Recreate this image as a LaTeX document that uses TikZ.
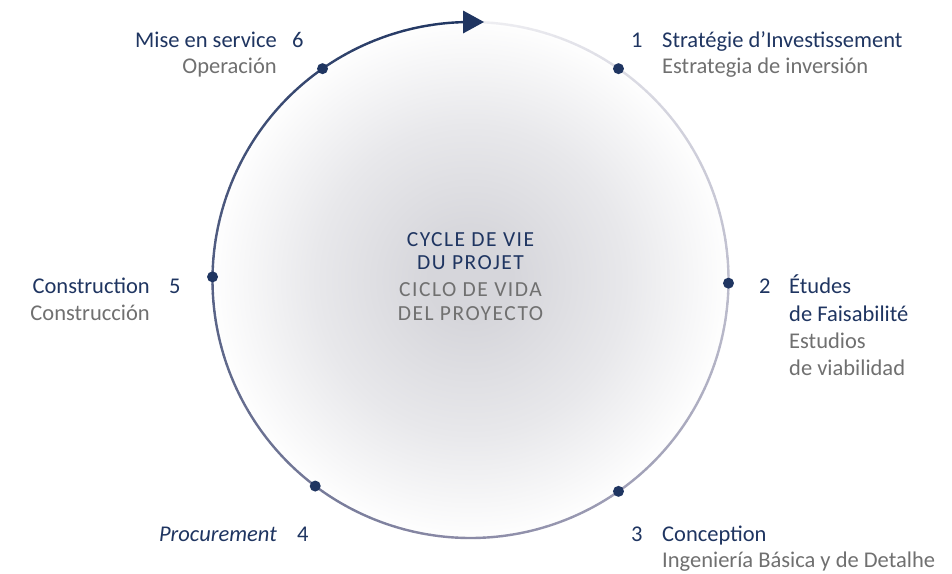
\documentclass[tikz,border=0pt]{standalone}
\usepackage{fontspec}
\setmainfont{Carlito}
\definecolor{navy}{HTML}{1F3561}
\definecolor{txtgray}{HTML}{707070}
\definecolor{cin}{HTML}{D6D6DB}
\definecolor{cmid}{HTML}{E8E8EB}
\definecolor{cout}{HTML}{FEFEFE}
\definecolor{lightc}{HTML}{EEEEF2}
\definecolor{midc}{HTML}{8A8AA6}
\pgfdeclareradialshading{discshade}{\pgfpoint{0bp}{0bp}}{color(0bp)=(cin); color(4bp)=(cin); color(15bp)=(cmid); color(25bp)=(cout); color(50bp)=(cout)}
\begin{document}
\begin{tikzpicture}[x=1pt,y=-1pt,
  fr/.style={inner sep=0pt, font=\fontsize{22.5}{26}\selectfont, text=navy},
  es/.style={inner sep=0pt, font=\fontsize{22.5}{26}\selectfont, text=txtgray},
  num/.style={inner sep=0pt, font=\fontsize{22.5}{26}\selectfont, text=navy},
  ctr/.style={inner sep=0pt, font=\fontsize{21.5}{24}\selectfont\addfontfeatures{LetterSpace=7}, anchor=base},
  dot/.style={circle, fill=navy, inner sep=0pt, minimum size=11pt}]
\useasboundingbox (0,0) rectangle (952,573);
\fill[white] (0,0) rectangle (952,573);
\coordinate (c) at (470.5,280);
% disc
\path[shading=discshade] (c) circle (258);
% gradient outline
\foreach \i in {0,...,177}{
  \pgfmathsetmacro\a{-87+2*\i}
  \ifnum\i<89
    \pgfmathtruncatemacro\p{\i*100/88}
    \colorlet{segc}{midc!\p!lightc}
  \else
    \pgfmathtruncatemacro\p{(\i-89)*100/88}
    \colorlet{segc}{navy!\p!midc}
  \fi
  \draw[segc, line width=2.4pt, line cap=round] ([shift={(\a:258)}]c) arc[start angle=\a, end angle=\a+2, radius=258];
}
% arrowhead
\fill[navy] (463,10.5) -- (484,22) -- (463,33.5) -- cycle;
% dots
\node[dot] (d1) at ([shift={(-55:258)}]c) {};
\node[dot] (d2) at ([shift={(0.7:258)}]c) {};
\node[dot] (d3) at ([shift={(55:258)}]c) {};
\node[dot] (d4) at ([shift={(127:258)}]c) {};
\node[dot] (d5) at ([shift={(180.7:258)}]c) {};
\node[dot] (d6) at ([shift={(-125:258)}]c) {};
% center text
\node[ctr, text=navy] (c1) at (470.5,246) {CYCLE DE VIE};
\node[ctr, text=navy] (c2) at (470.5,269) {DU PROJET};
\node[ctr, text=txtgray] (c3) at (470.5,296) {CICLO DE VIDA};
\node[ctr, text=txtgray] (c4) at (470.5,320) {DEL PROYECTO};
% 1
\node[num, anchor=base west] (n1) at (631,47.5) {1};
\node[fr, anchor=base west] (t1a) at (662,47.5) {Stratégie d’Investissement};
\node[es, anchor=base west] (t1b) at (662,73.5) {Estrategia de inversión};
% 2
\node[num, anchor=base west] (n2) at (759,293) {2};
\node[fr, anchor=base west] (t2a) at (789,293) {Études};
\node[fr, anchor=base west] (t2b) at (789,321) {de Faisabilité};
\node[es, anchor=base west] (t2c) at (789,348) {Estudios};
\node[es, anchor=base west] (t2d) at (789,375) {de viabilidad};
% 3
\node[num, anchor=base west] (n3) at (631,541) {3};
\node[fr, anchor=base west] (t3a) at (662,541) {Conception};
\node[es, anchor=base west] (t3b) at (662,567) {Ingeniería Básica y de Detalhe};
% 4
\node[fr, anchor=base east, font=\fontsize{22.5}{26}\selectfont\itshape] (t4a) at (277,541) {Procurement};
\node[num, anchor=base west] (n4) at (297,541) {4};
% 5
\node[fr, anchor=base east] (t5a) at (150,293) {Construction};
\node[num, anchor=base west] (n5) at (169,293) {5};
\node[es, anchor=base east] (t5b) at (150,320) {Construcción};
% 6
\node[fr, anchor=base east] (t6a) at (277,47.5) {Mise en service};
\node[num, anchor=base west] (n6) at (292,47.5) {6};
\node[es, anchor=base east] (t6b) at (277,73.5) {Operación};
\end{tikzpicture}
\end{document}
